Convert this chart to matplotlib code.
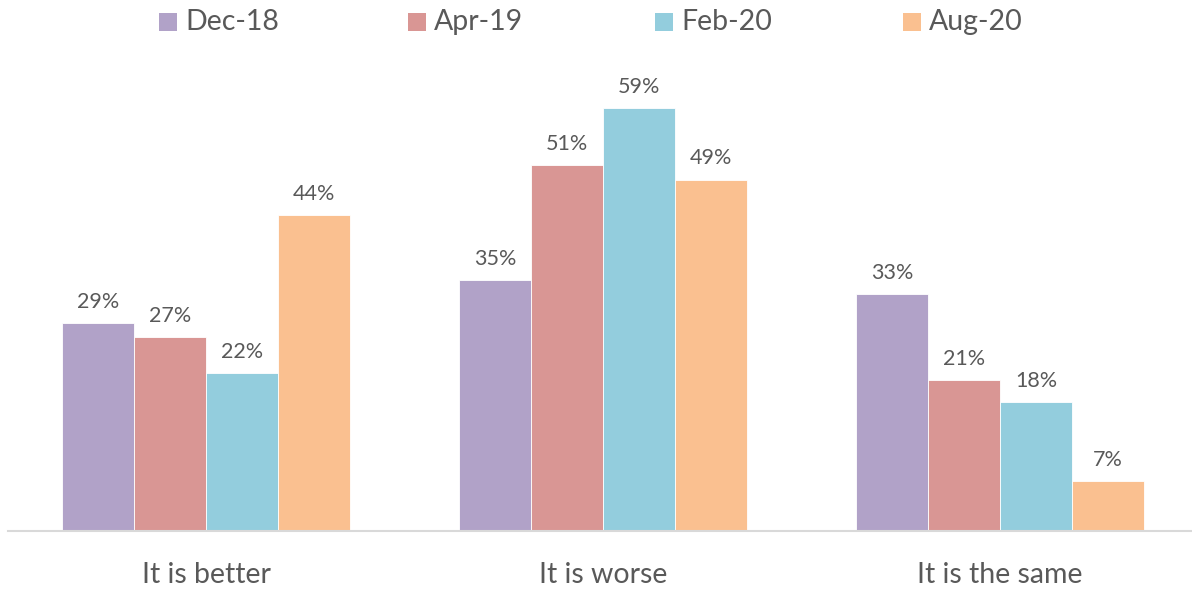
import numpy as np
import matplotlib
matplotlib.use("Agg")
import matplotlib.pyplot as plt
from matplotlib.patches import Rectangle

categories = ["It is better", "It is worse", "It is the same"]
series_names = ["Dec-18", "Apr-19", "Feb-20", "Aug-20"]
dec18 = [29, 35, 33]
apr19 = [27, 51, 21]
feb20 = [22, 59, 18]
aug20 = [44, 49, 7]

colors = ["#B1A2C8", "#D99694", "#93CDDD", "#FAC090"]
text_color = "#595959"

plt.rcParams["font.family"] = ["Lato", "DejaVu Sans"]

fig = plt.figure(figsize=(11.92, 5.94), dpi=100)
W, H = 1192, 594
ax = fig.add_axes([7.5 / W, (H - 531) / H, 1191 / W, 502 / H])

x = np.arange(len(categories))
bw = 72 / 397
for i, (name, vals) in enumerate(zip(series_names, [dec18, apr19, feb20, aug20])):
    pos = x + (i - 1.5) * bw
    bars = ax.bar(pos, vals, width=bw, color=colors[i], edgecolor="white",
                  linewidth=0.6, zorder=2)
    for b, v in zip(bars, vals):
        ax.annotate(f"{v}%", (b.get_x() + b.get_width() / 2, v),
                    xytext=(0, 8), textcoords="offset points",
                    ha="center", va="bottom", fontsize=15.5, color=text_color)

ax.set_xlim(-0.5, 2.5)
ax.set_ylim(0, 70)
ax.set_yticks([])
ax.set_xticks(x)
ax.set_xticklabels(categories, fontsize=20.5, color=text_color)
ax.tick_params(axis="x", length=0, pad=22)
for s in ["top", "right", "left"]:
    ax.spines[s].set_visible(False)
ax.spines["bottom"].set_color("#D9D9D9")
ax.spines["bottom"].set_linewidth(1.5)

# legend drawn by hand so the entries sit where they do in the original
legend_x = [159, 408, 655, 903]
for lx, c, n in zip(legend_x, colors, series_names):
    fig.patches.append(Rectangle((lx / W, 1 - 31 / H), 18 / W, 18 / H,
                                 facecolor=c, transform=fig.transFigure))
    fig.text((lx + 26) / W, 1 - 22 / H, n, fontsize=20.5, color=text_color,
             ha="left", va="center")

fig.savefig("out.png", dpi=100)
